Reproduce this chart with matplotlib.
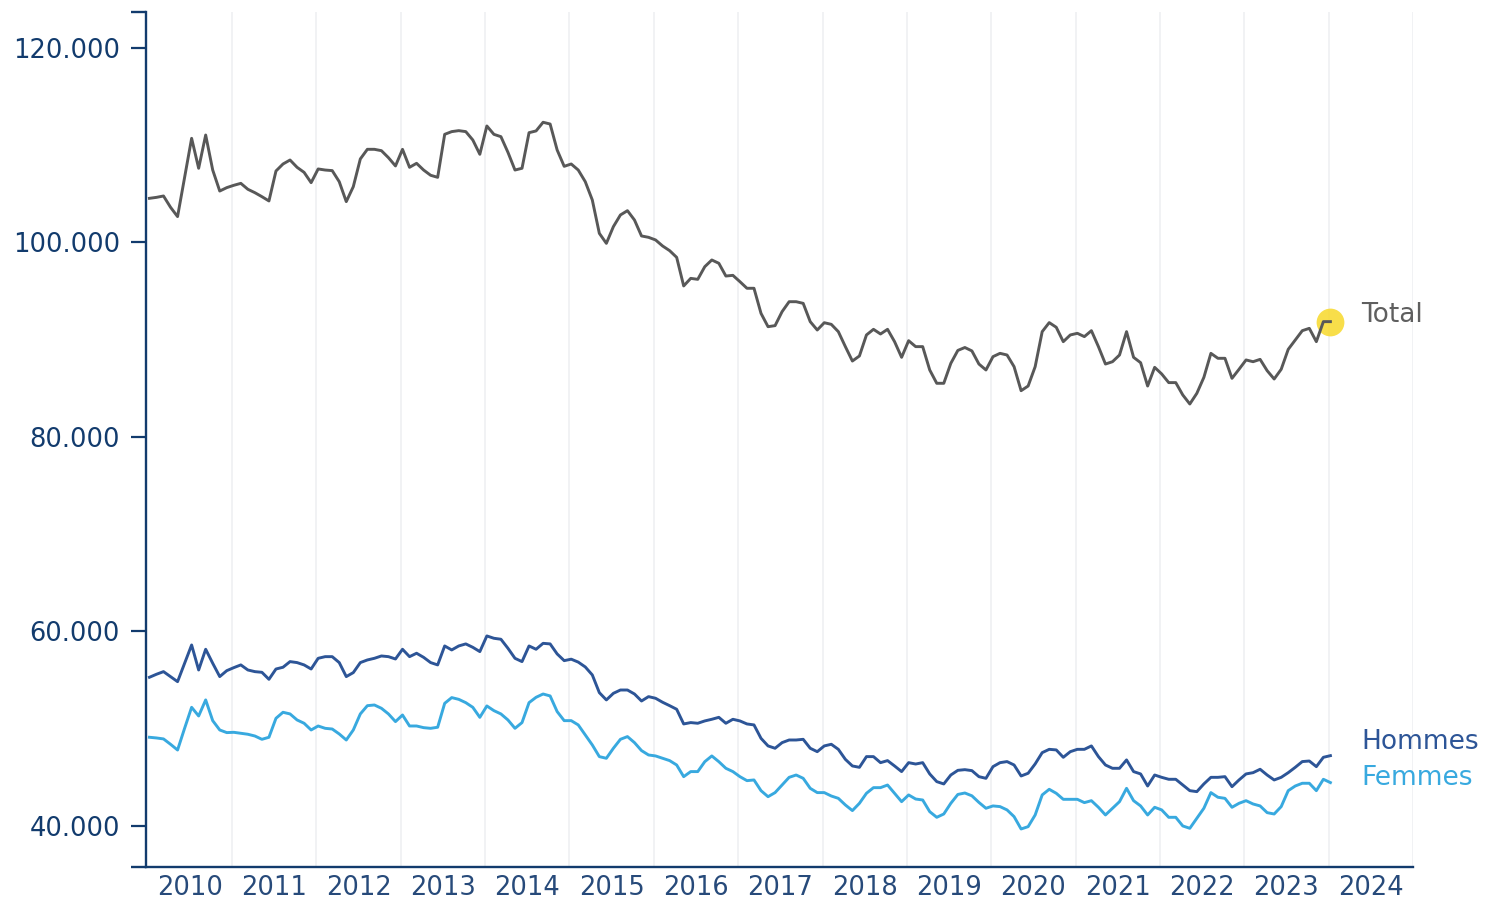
import numpy as np
import matplotlib
matplotlib.use("Agg")
import matplotlib.pyplot as plt
from matplotlib.ticker import FuncFormatter


START_YEAR = 2010
YEAR_LABELS = list(range(2010, 2025))
Y_TICKS = [40000, 60000, 80000, 100000, 120000]

# monthly values, Jan 2010 -> Jan 2024
TOTAL = [
    104540, 104640, 104780, 103620, 102660, 106700, 110710, 107630, 111050, 107450, 105290, 105640,
    105880, 106080, 105470, 105120, 104710, 104270, 107350, 108070, 108480, 107730, 107210, 106150,
    107560, 107450, 107390, 106250, 104200, 105740, 108590, 109580, 109580, 109440, 108720, 107870,
    109580, 107730, 108140, 107450, 106910, 106700, 111120, 111400, 111500, 111400, 110540, 109070,
    111980, 111120, 110880, 109270, 107450, 107630, 111290, 111470, 112360, 112180, 109510, 107830,
    108070, 107450, 106250, 104370, 100940, 99910, 101630, 102830, 103270, 102310, 100670, 100530,
    100260, 99640, 99160, 98470, 95530, 96310, 96210, 97510, 98200, 97860, 96550, 96620,
    95970, 95290, 95290, 92710, 91340, 91450, 92890, 93910, 93910, 93740, 91860, 91000,
    91750, 91580, 90830, 89290, 87810, 88330, 90490, 91070, 90590, 91070, 89800, 88190,
    89900, 89290, 89290, 86890, 85520, 85520, 87570, 88900, 89200, 88850, 87500, 86890,
    88260, 88600, 88430, 87230, 84760, 85240, 87230, 90830, 91760, 91280, 89800, 90490,
    90660, 90320, 90930, 89290, 87500, 87740, 88430, 90830, 88190, 87640, 85240, 87160,
    86480, 85590, 85590, 84320, 83390, 84490, 86130, 88600, 88090, 88090, 86030, 86960,
    87920, 87740, 87980, 86820, 85960, 86960, 89010, 89970, 90930, 91170, 89800, 91860, 91860,
]

HOMMES = [
    55290, 55600, 55870, 55360, 54840, 56730, 58610, 56040, 58170, 56730, 55360, 55970,
    56280, 56560, 56040, 55870, 55800, 55080, 56140, 56320, 56900, 56800, 56560, 56140,
    57240, 57410, 57410, 56800, 55360, 55770, 56800, 57070, 57240, 57480, 57410, 57170,
    58170, 57410, 57760, 57340, 56800, 56560, 58510, 58100, 58510, 58720, 58370, 57930,
    59540, 59300, 59200, 58270, 57240, 56900, 58510, 58170, 58780, 58720, 57690, 57000,
    57150, 56850, 56350, 55530, 53710, 52960, 53640, 53980, 53980, 53570, 52850, 53300,
    53130, 52720, 52370, 52000, 50490, 50630, 50560, 50800, 50970, 51170, 50560, 50970,
    50800, 50490, 50390, 49010, 48230, 47990, 48570, 48840, 48840, 48910, 47990, 47640,
    48230, 48400, 47880, 46850, 46170, 46030, 47130, 47130, 46510, 46720, 46170, 45590,
    46510, 46370, 46510, 45350, 44560, 44320, 45240, 45720, 45790, 45690, 45070, 44900,
    46100, 46510, 46620, 46270, 45140, 45420, 46380, 47540, 47880, 47820, 47060, 47640,
    47880, 47880, 48230, 47130, 46270, 45930, 45930, 46790, 45590, 45350, 44110, 45240,
    45000, 44800, 44800, 44220, 43630, 43530, 44320, 45000, 45000, 45070, 44040, 44730,
    45350, 45480, 45830, 45240, 44730, 45000, 45480, 46030, 46620, 46680, 46100, 47060, 47230,
]

FEMMES = [
    49120, 49050, 48950, 48400, 47810, 50040, 52200, 51310, 52960, 50830, 49870, 49600,
    49630, 49530, 49430, 49250, 48910, 49120, 51070, 51690, 51520, 50900, 50560, 49870,
    50280, 50040, 49970, 49460, 48840, 49870, 51520, 52370, 52440, 52100, 51520, 50730,
    51410, 50280, 50280, 50110, 50040, 50150, 52610, 53200, 53020, 52680, 52200, 51170,
    52340, 51860, 51520, 50900, 50040, 50630, 52680, 53230, 53570, 53370, 51760, 50830,
    50830, 50390, 49360, 48330, 47130, 46960, 47990, 48910, 49190, 48570, 47750, 47300,
    47200, 46960, 46720, 46270, 45070, 45590, 45590, 46610, 47200, 46610, 45930, 45590,
    45070, 44660, 44730, 43630, 43010, 43430, 44210, 45000, 45240, 44900, 43870, 43430,
    43430, 43080, 42840, 42160, 41580, 42330, 43360, 43940, 43940, 44210, 43360, 42500,
    43190, 42770, 42670, 41470, 40890, 41230, 42330, 43240, 43390, 43100, 42420, 41820,
    42060, 41990, 41650, 40960, 39690, 39930, 41130, 43190, 43770, 43360, 42740, 42740,
    42740, 42400, 42600, 41920, 41130, 41820, 42500, 43870, 42600, 42060, 41130, 41920,
    41650, 40890, 40890, 40000, 39760, 40790, 41820, 43430, 42950, 42840, 41920, 42330,
    42600, 42260, 42060, 41370, 41230, 41990, 43630, 44110, 44390, 44390, 43630, 44800, 44460,
]

COL_TOTAL = "#585858"
COL_HOMMES = "#2d5597"
COL_FEMMES = "#38a9df"
COL_AXIS = "#123b6d"
COL_GRID = "#f0f1f3"
COL_DOT = "#f7d92a"


def main():
    plt.rcParams["font.family"] = ["DejaVu Sans"]

    # small shift so points sit mid-month like the source chart
    x = START_YEAR + (np.arange(len(TOTAL)) + 0.25) / 12

    fig = plt.figure(figsize=(14.86, 8.99), dpi=100)
    ax = fig.add_axes([146 / 1486, 32 / 899, 1267 / 1486, 855 / 899])

    # year boundaries -> grid, mid-year -> labels
    ax.set_xticks([y + 0.5 for y in YEAR_LABELS])
    ax.set_xticklabels([str(y) for y in YEAR_LABELS])
    ax.set_xticks([y + 1 for y in YEAR_LABELS], minor=True)
    ax.grid(True, axis="x", which="minor", color=COL_GRID, linewidth=1.3)
    ax.set_axisbelow(True)

    ax.plot(x[-1], TOTAL[-1], "o", ms=20, color=COL_DOT, alpha=0.85,
            markeredgewidth=0, zorder=2)
    ax.plot(x, TOTAL, color=COL_TOTAL, linewidth=2.1, zorder=3)
    ax.plot(x, HOMMES, color=COL_HOMMES, linewidth=2.1, zorder=3)
    ax.plot(x, FEMMES, color=COL_FEMMES, linewidth=2.1, zorder=3)

    ax.annotate("Total", (x[-1], TOTAL[-1]), xytext=(22, 5),
                textcoords="offset points", va="center", ha="left",
                fontsize=19, color="#5f5f5f")
    ax.annotate("Hommes", (x[-1], HOMMES[-1]), xytext=(22, 10),
                textcoords="offset points", va="center", ha="left",
                fontsize=19, color=COL_HOMMES)
    ax.annotate("Femmes", (x[-1], FEMMES[-1]), xytext=(22, 3),
                textcoords="offset points", va="center", ha="left",
                fontsize=19, color=COL_FEMMES)

    ax.set_xlim(2009.98, 2025.0)
    ax.set_ylim(35780, 123700)

    ax.set_yticks(Y_TICKS)
    ax.yaxis.set_major_formatter(
        FuncFormatter(lambda v, p: f"{int(v):,}".replace(",", "."))
    )

    ax.tick_params(axis="y", which="major", length=10.8, width=1.6,
                   color=COL_AXIS, labelcolor=COL_AXIS, labelsize=18.5, pad=8)
    ax.tick_params(axis="x", which="both", length=0, labelcolor="#274a7a",
                   labelsize=18.5, pad=6)

    for side in ["top", "right"]:
        ax.spines[side].set_visible(False)
    for side in ["left", "bottom"]:
        ax.spines[side].set_color(COL_AXIS)
        ax.spines[side].set_linewidth(1.7)

    # outer ticks at both ends of the y axis
    ext = 15 / 1267
    for yy in [0, 1]:
        ax.plot([-ext, 0], [yy, yy], transform=ax.transAxes, color=COL_AXIS,
                linewidth=1.7, clip_on=False, solid_capstyle="butt")

    fig.savefig("out.png", dpi=100)
    plt.close(fig)


if __name__ == "__main__":
    main()
